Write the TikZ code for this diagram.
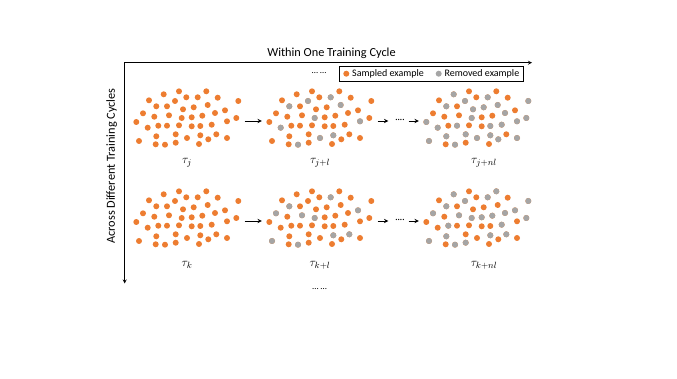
\documentclass[tikz,border=0pt]{standalone}
\usepackage{fontspec}
\setmainfont{Carlito}
\usetikzlibrary{positioning}
\definecolor{sampledorange}{HTML}{ED7D31}
\definecolor{removedgray}{HTML}{A5A5A5}
\tikzset{
  sampled/.style={fill=sampledorange},
  removed/.style={fill=removedgray},
  cloudbox/.style={minimum width=108pt,minimum height=60pt,inner sep=0pt},
  flow/.style={->,line width=0.9pt,shorten <=3.3pt,shorten >=4pt},
  tau/.style={font=\fontsize{13}{15}\selectfont,inner sep=1pt},
  legendbox/.style={draw,line width=0.8pt,minimum width=184pt,minimum height=15.5pt,inner sep=0pt},
  legenddot/.style={circle,minimum size=6pt,inner sep=0pt},
  legendtext/.style={font=\fontsize{10}{12}\selectfont,inner sep=1pt},
  axislabel/.style={font=\fontsize{12.3}{14}\selectfont},
  gapdots/.style={font=\fontsize{9}{10}\selectfont,inner xsep=1pt,inner ysep=0pt}
}
\def\cloudpts{-8/29.7, 19.3/29.7, -23.3/26.7, -38/20.7, -12/20, -0.7/23.7,
  10.7/23.7, 30.7/23.3, 51.3/20, -30.7/14.7, -20/14.7, -4/11.7, 6.7/13.7,
  20.7/16, 38/10.7, -44/7.7, -32.7/4.3, -18/5.7, -5.3/3, 4.7/3.7, 15.3/5.3,
  28/8, 49.3/3, 40/-0.3, -50.7/-1, -39.3/-6.7, -28.7/-4.7, -20/-4.7, -8/-4.3,
  4.7/-5.3, 13.3/-5, 24.7/-3.7, -30.7/-15.3, -11.3/-13.3, 0/-17, 13.3/-14.3,
  29.3/-13.3, -48/-20, -31.3/-23.3, -22/-23.7, -11.3/-21.7, 12/-23, 21.3/-18.3,
  40/-17}
\newcommand{\dotcloud}[2]{%
  \foreach \dx/\dy [count=\i] in \cloudpts {
    \coordinate (#1-\i) at ([shift={(\dx,\dy)}]#1.center);
    \fill[sampled] (#1-\i) circle (3pt);
  }
  \def\graylist{#2}%
  \ifx\graylist\empty\else
    \foreach \i in {#2} {\fill[removed] (#1-\i) circle (3pt);}
  \fi}

\begin{document}
\begin{tikzpicture}[x=1pt,y=1pt,>=stealth]
 \useasboundingbox (0,0) rectangle (677,-379);
 \coordinate (origin) at (124.7,-62.7);
 \coordinate (xend) at (532,-62.7);
 \coordinate (yend) at (124.7,-283.5);
 \draw[<->,line width=0.8pt] (xend) -- (origin) -- (yend);
 \node[axislabel] (xlabel) at (331.5,-53.5) {Within One Training Cycle};
 \node[axislabel,rotate=90] (ylabel) at (111.7,-166) {Across Different Training Cycles};

 \node[legendbox] (legend) at (431,-73.7) {};
 \node[legenddot,sampled] (sdot) at ([xshift=7.7pt]legend.west) {};
 \node[legendtext,right=1.5pt of sdot] (stext) {Sampled example};
 \node[legenddot,removed] (rdot) at ([xshift=7.7pt]legend.center) {};
 \node[legendtext,right=1.5pt of rdot] (rtext) {Removed example};
 \node[gapdots] (moreup) at (319,-73.5) {… …};

 \node[cloudbox] (cj) at (187,-121) {};
 \node[cloudbox] (cjl) at (320,-121) {};
 \node[cloudbox] (cjnl) at (477,-121) {};
 \node[cloudbox] (ck) at (187,-221) {};
 \node[cloudbox] (ckl) at (320,-221) {};
 \node[cloudbox] (cknl) at (477,-221) {};
 \dotcloud{cj}{}
 \dotcloud{cjl}{5,7,10,14,19,24,26,35,36,40}
 \dotcloud{cjnl}{3,5,7,9,10,12,13,14,19,22,23,24,25,26,28,31,32,33,34,35,36,38,40,43,44}
 \dotcloud{ck}{}
 \dotcloud{ckl}{7,10,15,16,18,19,36,37,38,40}
 \dotcloud{cknl}{2,3,5,7,9,10,15,16,18,19,20,21,22,23,27,32,33,36,37,38,40,41}

 \node[gapdots] (jgap) at (400,-121) {····};
 \node[gapdots] (kgap) at (400,-221) {····};
 \draw[flow] (cj) -- (cjl);
 \draw[flow,shorten >=6pt] (cjl) -- (jgap);
 \draw[flow,shorten <=2.8pt] (jgap) -- (cjnl);
 \draw[flow] (ck) -- (ckl);
 \draw[flow,shorten >=6pt] (ckl) -- (kgap);
 \draw[flow,shorten <=2.8pt] (kgap) -- (cknl);

 \node[tau,below=6pt of cj] (tj) {$\tau_j$};
 \node[tau,below=6pt of cjl] (tjl) {$\tau_{j+l}$};
 \node[tau,below=6pt of cjnl,xshift=7pt] (tjnl) {$\tau_{j+nl}$};
 \node[tau,below=9pt of ck] (tk) {$\tau_k$};
 \node[tau,below=9pt of ckl] (tkl) {$\tau_{k+l}$};
 \node[tau,below=9pt of cknl,xshift=7pt] (tknl) {$\tau_{k+nl}$};
 \node[gapdots] (moredown) at (319.5,-289) {… …};
\end{tikzpicture}
\end{document}
